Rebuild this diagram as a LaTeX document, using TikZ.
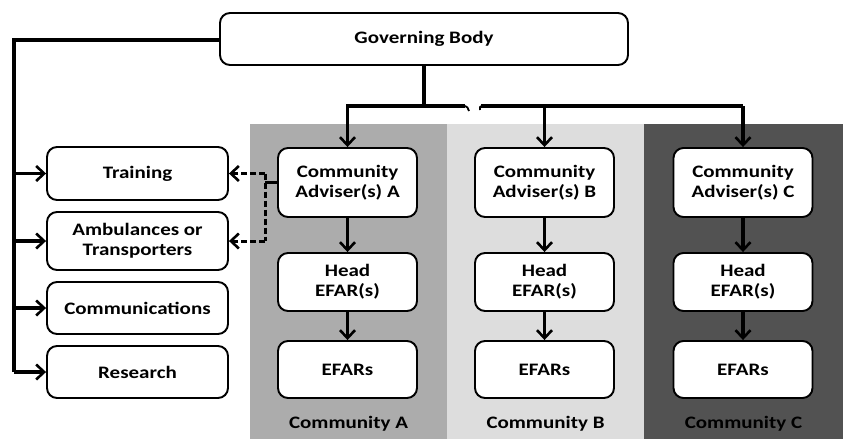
\documentclass[tikz,border=0pt]{standalone}
\usepackage{fontspec}
\setmainfont{Carlito}[FakeStretch=1.2]
\usetikzlibrary{arrows.meta}
\definecolor{panelA}{RGB}{172,172,172}
\definecolor{panelB}{RGB}{221,221,221}
\definecolor{panelC}{RGB}{82,82,82}
\tikzset{
  box/.style={draw=black, line width=1.9pt, rounded corners=10pt, fill=white,
    align=center, inner sep=2pt, font=\fontsize{17.5}{20}\selectfont\bfseries},
  conn/.style={line width=3.2pt, -{Straight Barb[length=8pt,width=15pt,line width=2.6pt]}},
  plain/.style={line width=3.2pt},
  dconn/.style={line width=3pt, dash pattern=on 6pt off 3pt, -{Straight Barb[length=8pt,width=15pt,line width=2.6pt]}},
  clabel/.style={font=\fontsize{17.5}{20}\selectfont\bfseries, text=black}
}
\begin{document}
\begin{tikzpicture}[x=1pt,y=-1pt]
\useasboundingbox (0,0) rectangle (843,439);
\fill[white] (0,0) rectangle (843,439);
% panels
\fill[panelA] (250,124) rectangle (447,439);
\fill[panelB] (447,124) rectangle (644,439);
\fill[panelC] (644,124) rectangle (843,439);
% governing body
\node[box, minimum width=408pt, minimum height=52pt] (gov) at (424,39) {Governing Body};
% left boxes
\node[box, minimum width=181pt, minimum height=53pt] (train) at (137.5,173.5) {Training};
\node[box, minimum width=181pt, minimum height=58pt] (amb) at (137.5,241) {Ambulances or\\Transporters};
\node[box, minimum width=181pt, minimum height=52pt] (comm) at (137.5,308) {Communications};
\node[box, minimum width=181pt, minimum height=52pt] (res) at (137.5,372) {Research};
% community columns
\foreach \c/\x in {A/347.5, B/544.5, C/743} {
  \node[box, minimum width=139pt, minimum height=69pt] (adv\c) at (\x,182.5) {Community\\Adviser(s) \c};
  \node[box, minimum width=139pt, minimum height=58pt] (head\c) at (\x,282) {Head\\EFAR(s)};
  \node[box, minimum width=139pt, minimum height=57pt] (efar\c) at (\x,369.5) {EFARs};
  \draw[conn] (adv\c) -- (head\c);
  \draw[conn] (head\c) -- (efar\c);
}
\node[clabel] (labA) at (348.5,424) {Community A};
\node[clabel] (labB) at (545.5,424) {Community B};
\node[clabel] (labC) at (743.5,424) {Community C};
% top distribution
\coordinate (bus) at (424,106);
\coordinate (gapL) at (465,106);
\coordinate (gapR) at (481,106);
\draw[plain] (gov.south -| bus) -- (bus);
\draw[conn] (gapL) -- (bus) -| (advA.north);
\draw[line width=1.8pt] (gapL) .. controls (467,106) and (468,108) .. (469,111);
\draw[line width=1.8pt] (gapR) .. controls (480,106) and (479.5,108) .. (480,110);
\draw[plain] (gapR) -- (advC.north |- gapR);
\draw[conn] (advB.north |- gapR) -- (advB.north);
\draw[conn] (advC.north |- gapR) -- (advC.north);
% left bus
\coordinate (lt) at (14,40);
\draw[plain] (gov.west |- lt) -- (lt) -- (lt |- res);
\draw[conn] (lt |- train) -- (train.west);
\draw[conn] (lt |- amb) -- (amb.west);
\draw[conn] (lt |- comm) -- (comm.west);
\draw[conn] (lt |- res) -- (res.west);
% dashed from adviser A
\coordinate (dj) at (265,182);
\draw[line width=3pt] (advA.west |- dj) -- (dj);
\draw[line width=3pt, dash pattern=on 6pt off 3pt] (265,173.5) -- (265,241);
\draw[dconn] (265,173.5) -- (train.east);
\draw[dconn] (265,241) -- (amb.east);
\end{tikzpicture}
\end{document}
